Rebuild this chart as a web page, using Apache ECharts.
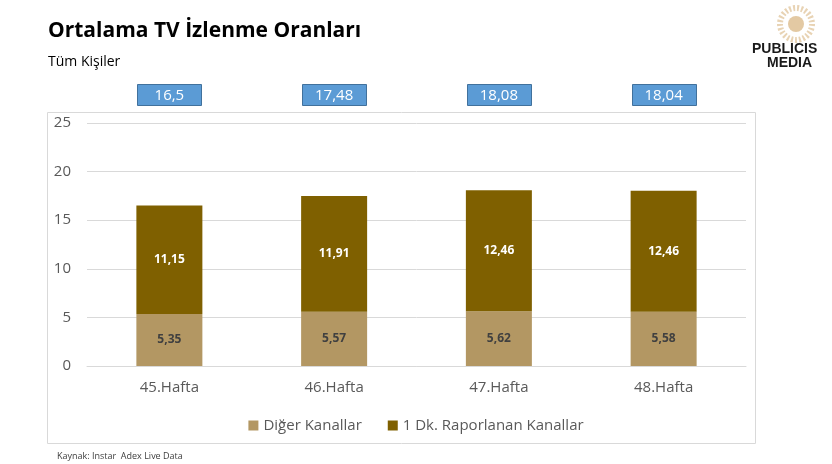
<!DOCTYPE html>
<html><head><meta charset="utf-8">
<script src="https://cdn.jsdelivr.net/npm/echarts@6/dist/echarts.min.js"></script>
<style>html,body{margin:0;padding:0;background:#fff}#c{width:832px;height:464px}</style>
</head><body><div id="c"></div>
<script>
const categories = ['45.Hafta','46.Hafta','47.Hafta','48.Hafta'];
const digerKanallar = [5.35, 5.57, 5.62, 5.58];
const raporlananKanallar = [11.15, 11.91, 12.46, 12.46];
const toplam = [16.5, 17.48, 18.08, 18.04];
const yTicks = [0, 5, 10, 15, 20, 25];

const fmt = v => String(v).replace('.', ',');
const FONT = '"Open Sans", "Noto Sans", sans-serif';

const chart = echarts.init(document.getElementById('c'), null, {renderer:'canvas'});
chart.setOption({
  animation:false,
  textStyle:{fontFamily:FONT},
  title:[
    {text:'Ortalama TV İzlenme Oranları', left:43, top:16, textStyle:{fontSize:21, fontWeight:'bold', color:'#000', fontFamily:FONT}},
    {text:'Tüm Kişiler', left:43, top:50, textStyle:{fontSize:14, fontWeight:'normal', color:'#000', fontFamily:FONT}},
    {text:'Kaynak: Instar  Adex Live Data', left:52, top:447, textStyle:{fontSize:9, fontWeight:'normal', color:'#404040', fontFamily:FONT}}
  ],
  graphic:[
    {type:'rect', shape:{x:47.5, y:112.5, width:708, height:331}, style:{fill:'none', stroke:'#D9D9D9', lineWidth:1}, z:-1},
    {type:'circle', shape:{cx:796, cy:24, r:8}, style:{fill:'#E3C9A3'}},
    {type:'circle', shape:{cx:796, cy:24, r:16}, style:{fill:'none', stroke:'#E8D3B4', lineWidth:6, lineDash:[2,2]}},
    {type:'text', left:752, top:42, style:{text:'PUBLICIS', fontSize:14, fontWeight:'bold', fill:'#1a1a1a', fontFamily:'"Liberation Sans", Arial, sans-serif'}},
    {type:'text', left:767, top:56, style:{text:'MEDIA', fontSize:14, fontWeight:'bold', fill:'#1a1a1a', fontFamily:'"Liberation Sans", Arial, sans-serif'}}
  ],
  legend:{
    bottom:26, left:'center', itemWidth:10, itemHeight:10, itemGap:26,
    icon:'rect',
    textStyle:{fontSize:15, color:'#595959', fontFamily:FONT},
    data:['Diğer Kanallar','1 Dk. Raporlanan Kanallar']
  },
  grid:{left:87, right:86, top:123, bottom:98},
  xAxis:{
    type:'category', data:categories,
    axisLine:{lineStyle:{color:'#D9D9D9'}}, axisTick:{show:false},
    axisLabel:{fontSize:15, color:'#595959', margin:14, fontFamily:FONT}
  },
  yAxis:{
    type:'value', min:0, max:25, interval:5,
    axisLine:{show:false}, axisTick:{show:false},
    splitLine:{lineStyle:{color:'#D9D9D9'}},
    axisLabel:{fontSize:15, color:'#595959', margin:16, fontFamily:FONT, formatter:v=>yTicks.includes(v)?String(v):''}
  },
  series:[
    {name:'Diğer Kanallar', type:'bar', stack:'t', barWidth:66, data:digerKanallar,
     itemStyle:{color:'#B39763'},
     label:{show:true, position:'inside', formatter:p=>fmt(p.value), fontSize:12, fontWeight:'bold', color:'#404040', fontFamily:FONT}},
    {name:'1 Dk. Raporlanan Kanallar', type:'bar', stack:'t', barWidth:66, data:raporlananKanallar,
     itemStyle:{color:'#7F6000'},
     label:{show:true, position:'inside', formatter:p=>fmt(p.value), fontSize:12, fontWeight:'bold', color:'#fff', fontFamily:FONT}},
    {name:'Toplam', type:'custom', clip:false, silent:true,
     data:toplam.map((v,i)=>[i,v]),
     renderItem:(params, api)=>{
       const x = api.coord([api.value(0), 0])[0];
       return {type:'group', children:[
         {type:'rect', shape:{x:Math.round(x-32)+0.5, y:84.5, width:64, height:21}, style:{fill:'#5B9BD5', stroke:'#41719C', lineWidth:1}},
         {type:'text', style:{x:x, y:95.5, text:fmt(api.value(1)), align:'center', verticalAlign:'middle', fontSize:15, fill:'#fff', fontFamily:FONT}}
       ]};
     }}
  ]
});
</script></body></html>
